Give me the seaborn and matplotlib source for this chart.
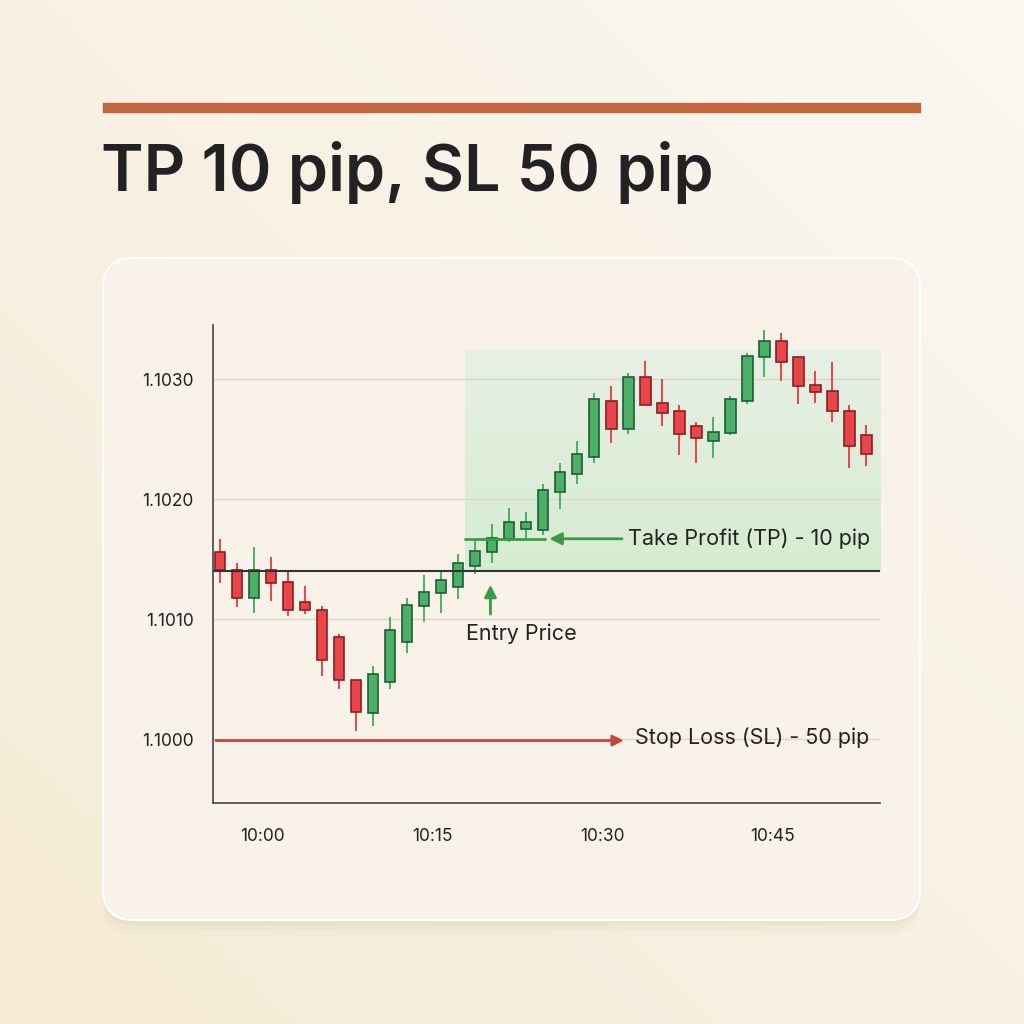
import matplotlib.pyplot as plt
import numpy as np
import pandas as pd
import seaborn as sns
from matplotlib.patches import FancyBboxPatch

# candle data (1.5 minute bars)
opens = [1.10156, 1.10141, 1.10118, 1.10141, 1.10131, 1.10114, 1.10108, 1.10085, 1.10049, 1.10022,
         1.10048, 1.10081, 1.10111, 1.10122, 1.10127, 1.10144, 1.10156, 1.10167, 1.10175, 1.10174,
         1.10206, 1.10221, 1.10235, 1.10282, 1.10258, 1.10302, 1.10280, 1.10273, 1.10261, 1.10248,
         1.10255, 1.10282, 1.10318, 1.10332, 1.10318, 1.10295, 1.10290, 1.10273, 1.10253]
closes = [1.10141, 1.10118, 1.10141, 1.10130, 1.10108, 1.10108, 1.10066, 1.10049, 1.10023, 1.10054,
          1.10091, 1.10112, 1.10123, 1.10133, 1.10147, 1.10157, 1.10168, 1.10181, 1.10181, 1.10208,
          1.10223, 1.10238, 1.10283, 1.10258, 1.10302, 1.10278, 1.10272, 1.10254, 1.10251, 1.10256,
          1.10283, 1.10319, 1.10332, 1.10314, 1.10294, 1.10289, 1.10273, 1.10244, 1.10238]
highs = [1.10167, 1.10147, 1.10160, 1.10152, 1.10139, 1.10128, 1.10111, 1.10088, 1.10049, 1.10061,
         1.10102, 1.10118, 1.10137, 1.10139, 1.10154, 1.10166, 1.10179, 1.10193, 1.10189, 1.10213,
         1.10230, 1.10248, 1.10288, 1.10294, 1.10305, 1.10315, 1.10300, 1.10278, 1.10264, 1.10268,
         1.10286, 1.10322, 1.10341, 1.10338, 1.10319, 1.10307, 1.10314, 1.10278, 1.10262]
lows = [1.10130, 1.10110, 1.10105, 1.10115, 1.10103, 1.10104, 1.10053, 1.10042, 1.10007, 1.10011,
        1.10042, 1.10072, 1.10098, 1.10105, 1.10117, 1.10138, 1.10147, 1.10164, 1.10168, 1.10170,
        1.10192, 1.10213, 1.10230, 1.10247, 1.10254, 1.10278, 1.10261, 1.10237, 1.10230, 1.10234,
        1.10253, 1.10279, 1.10302, 1.10298, 1.10279, 1.10280, 1.10264, 1.10226, 1.10228]

entry_price = 1.10140
tp_price = 1.10167
sl_price = 1.09999
zone_top = 1.10324
y_ticks = [1.1000, 1.1010, 1.1020, 1.1030]
x_tick_pos = [2.5, 12.5, 22.5, 32.5]
x_tick_labels = ["10:00", "10:15", "10:30", "10:45"]

df = pd.DataFrame({"open": opens, "close": closes, "high": highs, "low": lows})
df["idx"] = np.arange(len(df))
df["up"] = df["close"] >= df["open"]

sns.set_style("white")
plt.rcParams["font.family"] = ["Inter", "DejaVu Sans"]

fig = plt.figure(figsize=(10.24, 10.24), dpi=100)

# background gradient
bg = fig.add_axes([0, 0, 1, 1], zorder=-10)
yy, xx = np.mgrid[0:1:200j, 0:1:200j]
t = np.clip((xx + (1 - yy)) / 2, 0, 1)
c1 = np.array([0.960, 0.920, 0.835])
c2 = np.array([0.985, 0.972, 0.948])
img = c1[None, None, :] * (1 - t[..., None]) + c2[None, None, :] * t[..., None]
bg.imshow(img, extent=[0, 1, 0, 1], aspect="auto")
bg.set_axis_off()

# header bar and title
fig.patches.append(plt.Rectangle((103 / 1024, 1 - 112 / 1024), 817 / 1024, 9 / 1024,
                                 transform=fig.transFigure, color="#c0673f"))
fig.text(101 / 1024, 1 - 172 / 1024, "TP 10 pip, SL 50 pip", fontsize=46.5, fontweight="semibold",
         color="#222222", va="center", ha="left")

# card with soft shadow
for off, alpha in [(16, 0.025), (10, 0.035), (5, 0.045)]:
    fig.patches.append(FancyBboxPatch((103 / 1024, (104 - off) / 1024), 817 / 1024, 662 / 1024,
                                      boxstyle="round,pad=0,rounding_size=0.03",
                                      transform=fig.transFigure, facecolor="#8a7a60", alpha=alpha,
                                      edgecolor="none"))
fig.patches.append(FancyBboxPatch((103 / 1024, 104 / 1024), 817 / 1024, 662 / 1024,
                                  boxstyle="round,pad=0,rounding_size=0.03",
                                  transform=fig.transFigure, facecolor="#f8f2e8",
                                  edgecolor="#ffffff", linewidth=1.5))

ax = fig.add_axes([213 / 1024, 1 - 803 / 1024, 667 / 1024, 478 / 1024], zorder=5)
ax.set_facecolor("none")

green, red = "#4caf68", "#e8454a"
green_e, red_e = "#1f5e33", "#8a1f22"

# TP zone, fading towards the top
zone = np.linspace(1, 0.35, 100)[:, None]
ax.imshow(zone, extent=[14.4, 38.8, entry_price, zone_top], origin="lower", aspect="auto",
          cmap=sns.light_palette("#d6ecd0", as_cmap=True), vmin=0, vmax=1, zorder=0)

for up, face, edge in [(True, green, green_e), (False, red, red_e)]:
    sub = df[df["up"] == up]
    ax.vlines(sub["idx"], sub["low"], sub["high"], color=face, lw=1.4, zorder=2)
    bottoms = np.minimum(sub["open"], sub["close"])
    heights = (sub["close"] - sub["open"]).abs()
    ax.bar(sub["idx"], heights, bottom=bottoms, width=0.62, color=face, edgecolor=edge,
           linewidth=1.2, zorder=3)

for y in y_ticks:
    ax.axhline(y, color="#dcd6cc", lw=1, zorder=1)

sns.lineplot(x=[-0.41, 38.8], y=[entry_price, entry_price], color="#333333", lw=1.5, ax=ax, zorder=4)
ax.plot([14.4, 19.1], [tp_price, tp_price], color="#3a9a4a", lw=2, zorder=4)
ax.annotate("", xy=(19.2, tp_price), xytext=(23.8, tp_price),
            arrowprops=dict(arrowstyle="-|>", color="#3a9a4a", lw=2, mutation_scale=18), zorder=5)
ax.text(24.0, tp_price, "Take Profit (TP) - 10 pip", fontsize=15.5, va="center", ha="left", color="#222222")

ax.annotate("", xy=(15.9, 1.10131), xytext=(15.9, 1.10102),
            arrowprops=dict(arrowstyle="-|>", color="#3a9a4a", lw=2, mutation_scale=18), zorder=5)
ax.text(17.7, 1.10088, "Entry Price", fontsize=15.5, va="center", ha="center", color="#222222")

ax.annotate("", xy=(23.9, sl_price), xytext=(-0.41, sl_price),
            arrowprops=dict(arrowstyle="-|>", color="#c4473c", lw=2, mutation_scale=16), zorder=5)
ax.text(24.4, sl_price + 0.00002, "Stop Loss (SL) - 50 pip", fontsize=15.5, va="center", ha="left", color="#222222")

ax.set_xlim(-0.41, 38.8)
ax.set_ylim(1.09947, 1.10345)
ax.set_yticks(y_ticks)
ax.set_yticklabels([f"{v:.4f}" for v in y_ticks])
ax.set_xticks(x_tick_pos)
ax.set_xticklabels(x_tick_labels)
ax.tick_params(axis="both", length=0, labelsize=12.5, colors="#222222")
ax.tick_params(axis="y", pad=14)
ax.tick_params(axis="x", pad=18)
sns.despine(ax=ax)
for s in ["left", "bottom"]:
    ax.spines[s].set_color("#444444")
    ax.spines[s].set_linewidth(1.2)

fig.savefig("out.png", dpi=100)
